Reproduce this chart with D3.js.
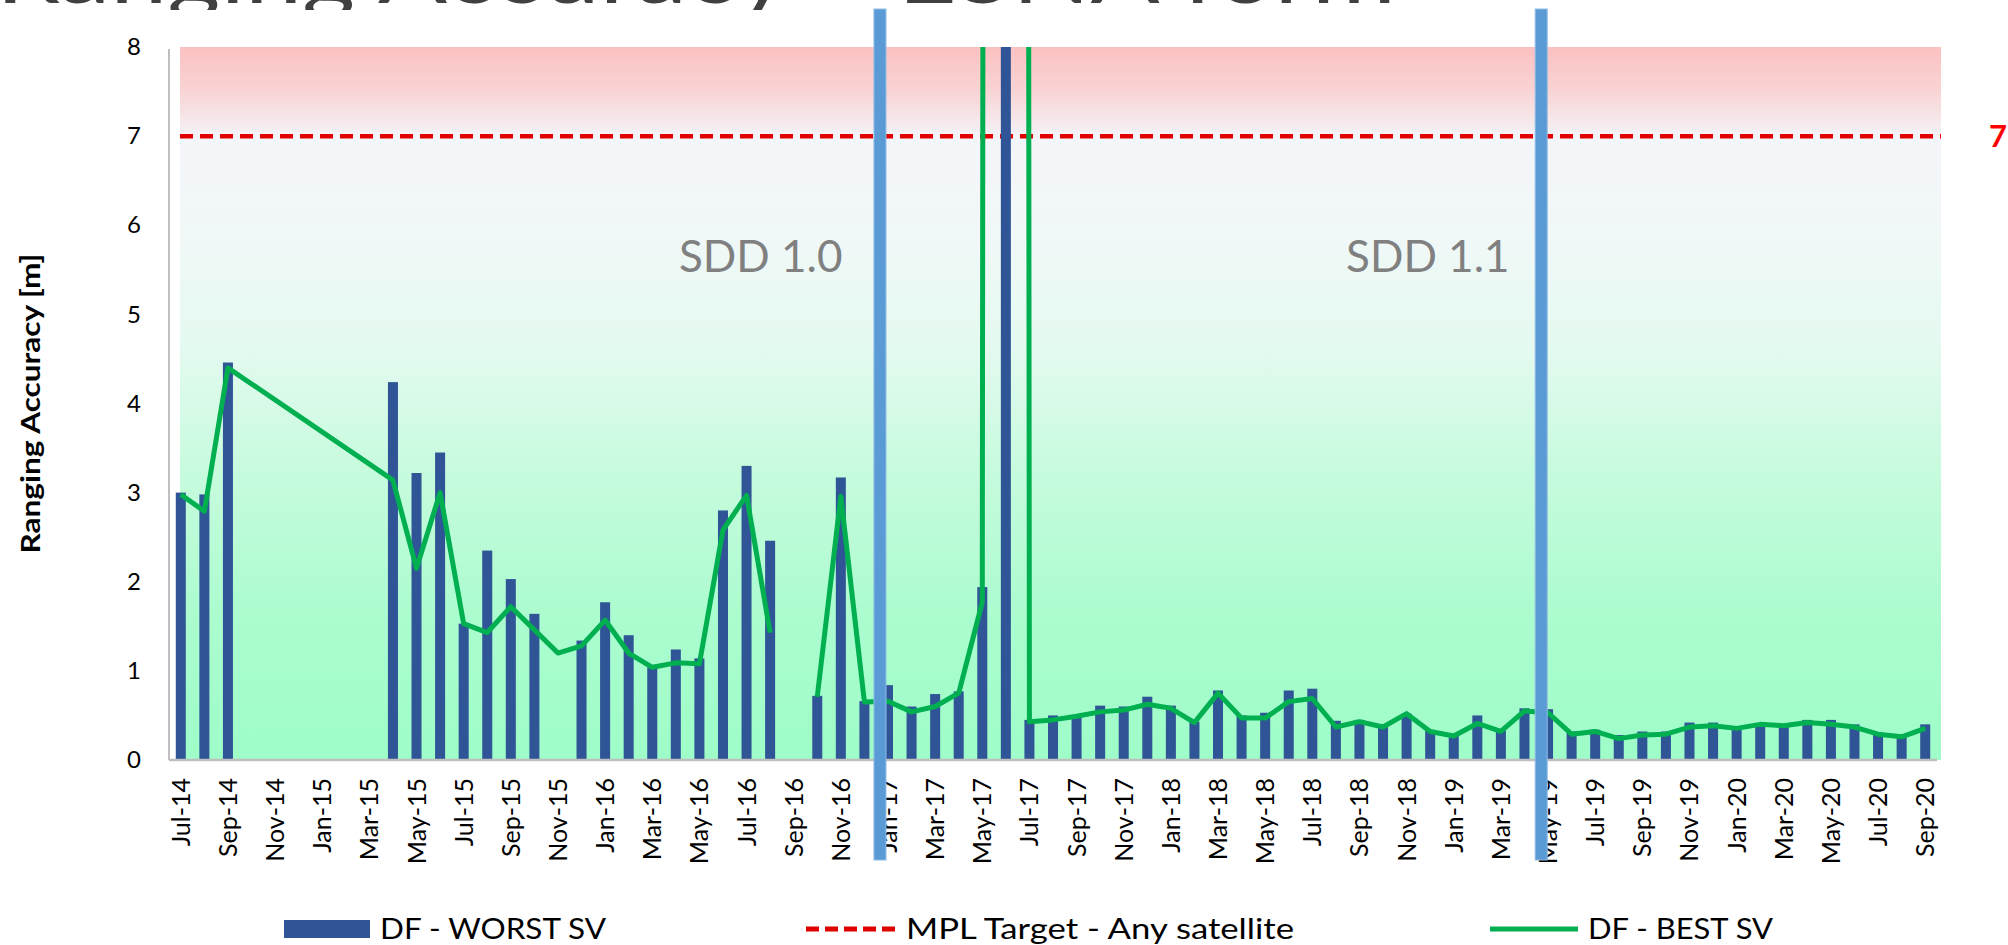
<!DOCTYPE html>
<html>
<head>
<meta charset="utf-8">
<script src="https://cdn.jsdelivr.net/npm/d3@7"></script>
<style>
  html, body { margin: 0; padding: 0; background: #ffffff; }
  svg { display: block; }
  text { font-family: Lato, "Open Sans", "DejaVu Sans", sans-serif; }
</style>
</head>
<body>
<div id="chart"></div>
<script>
// ---------------- DATA ----------------
const months = [
  "Jul-14","Aug-14","Sep-14","Oct-14","Nov-14","Dec-14",
  "Jan-15","Feb-15","Mar-15","Apr-15","May-15","Jun-15","Jul-15","Aug-15","Sep-15","Oct-15","Nov-15","Dec-15",
  "Jan-16","Feb-16","Mar-16","Apr-16","May-16","Jun-16","Jul-16","Aug-16","Sep-16","Oct-16","Nov-16","Dec-16",
  "Jan-17","Feb-17","Mar-17","Apr-17","May-17","Jun-17","Jul-17","Aug-17","Sep-17","Oct-17","Nov-17","Dec-17",
  "Jan-18","Feb-18","Mar-18","Apr-18","May-18","Jun-18","Jul-18","Aug-18","Sep-18","Oct-18","Nov-18","Dec-18",
  "Jan-19","Feb-19","Mar-19","Apr-19","May-19","Jun-19","Jul-19","Aug-19","Sep-19","Oct-19","Nov-19","Dec-19",
  "Jan-20","Feb-20","Mar-20","Apr-20","May-20","Jun-20","Jul-20","Aug-20","Sep-20"
];
const tickLabels = [
  "Jul-14","Sep-14","Nov-14","Jan-15","Mar-15","May-15","Jul-15","Sep-15","Nov-15",
  "Jan-16","Mar-16","May-16","Jul-16","Sep-16","Nov-16","Jan-17","Mar-17","May-17","Jul-17","Sep-17","Nov-17",
  "Jan-18","Mar-18","May-18","Jul-18","Sep-18","Nov-18","Jan-19","Mar-19","May-19","Jul-19","Sep-19","Nov-19",
  "Jan-20","Mar-20","May-20","Jul-20","Sep-20"
];
// DF - WORST SV (bars); null = no value; Jun-17 is far off scale
const worstSV = [
  3.00, 2.98, 4.46, null, null, null,
  null, null, null, 4.24, 3.22, 3.45, 1.53, 2.35, 2.03, 1.64, null, 1.34,
  1.77, 1.40, 1.04, 1.24, 1.14, 2.80, 3.30, 2.46, null, 0.72, 3.17, 0.66,
  0.84, 0.60, 0.74, 0.77, 1.94, 250, 0.45, 0.50, 0.48, 0.61, 0.60, 0.71,
  0.61, 0.43, 0.78, 0.50, 0.53, 0.78, 0.80, 0.44, 0.45, 0.40, 0.52, 0.33,
  0.28, 0.50, 0.33, 0.58, 0.57, 0.32, 0.34, 0.28, 0.32, 0.32, 0.42, 0.42,
  0.35, 0.40, 0.39, 0.45, 0.45, 0.40, 0.30, 0.29, 0.40
];
// DF - BEST SV (line); null = no value (line bridges it unless listed in lineBreaks)
const bestSV = [
  2.98, 2.79, 4.40, null, null, null,
  null, null, null, 3.14, 2.15, 3.00, 1.53, 1.43, 1.72, 1.46, 1.20, 1.28,
  1.57, 1.20, 1.04, 1.09, 1.08, 2.58, 2.97, 1.43, null, 0.71, 2.96, 0.65,
  0.66, 0.54, 0.60, 0.75, 1.77, 250, 0.43, 0.45, 0.49, 0.54, 0.56, 0.625,
  0.58, 0.42, 0.75, 0.47, 0.47, 0.655, 0.69, 0.37, 0.43, 0.37, 0.52, 0.32,
  0.27, 0.41, 0.32, 0.55, 0.53, 0.29, 0.32, 0.24, 0.28, 0.29, 0.37, 0.385,
  0.355, 0.40, 0.385, 0.42, 0.40, 0.37, 0.29, 0.26, 0.355
];
const lineBreaks = ["Sep-16"];
const mplTarget = 7;
const yTicks = [0, 1, 2, 3, 4, 5, 6, 7, 8];
// SDD version boundaries and labels, in (fractional) month-index units
const sddBoundaries = [29.66, 57.71];
const sddLabels = ["SDD 1.0", "SDD 1.1"];
const sddLabelPos = [24.6, 52.9];
const sddLabelValue = 5.48;
const legendLabels = ["DF - WORST SV", "MPL Target - Any satellite", "DF - BEST SV"];
const titleText = "Ranging Accuracy \u2013 ESNA form";
const yTitle = "Ranging Accuracy [m]";

// ---------------- LAYOUT ----------------
const W = 2008, H = 945;
const plot = { left: 169, right: 1937, top: 47, bottom: 760 };
const bg = { left: 180, right: 1941 };
const colors = {
  bar: "#2f5597", best: "#00b050", target: "#e00000",
  sdd: "#5b9bd5", sddText: "#808080", axis: "#bfbfbf", text: "#000000", title: "#404040"
};

const svg = d3.select("#chart").append("svg")
  .attr("width", W).attr("height", H);
const defs = svg.append("defs");

// background gradient
const grad = defs.append("linearGradient").attr("id", "bgGrad")
  .attr("x1", 0).attr("y1", 0).attr("x2", 0).attr("y2", 1);
[[0, "#fbc1c1"], [0.06, "#f9d3d3"], [0.13, "#f4f5f9"], [0.26, "#f1f8f8"],
 [0.42, "#e4faf0"], [0.60, "#c6fbdd"], [0.80, "#abfccf"], [1, "#9efdc8"]]
  .forEach(([o, c]) => grad.append("stop").attr("offset", o).attr("stop-color", c));

defs.append("clipPath").attr("id", "plotClip").append("rect")
  .attr("x", plot.left - 10).attr("y", plot.top)
  .attr("width", bg.right - plot.left + 10).attr("height", plot.bottom - plot.top);
defs.append("clipPath").attr("id", "titleClip").append("rect")
  .attr("x", 0).attr("y", -200).attr("width", W).attr("height", 210);

// scales
const x = d3.scaleBand().domain(months)
  .range([plot.left, plot.right]).paddingInner(0.575).paddingOuter(0.2875);
const xc = m => x(m) + x.bandwidth() / 2;
const xIdx = d3.scaleLinear().domain([0, months.length - 1])
  .range([xc(months[0]), xc(months[months.length - 1])]);
const y = d3.scaleLinear().domain([0, 8]).range([plot.bottom, plot.top]);

// title (mostly cropped off at top)
svg.append("text")
  .attr("clip-path", "url(#titleClip)")
  .attr("x", -4).attr("y", 3)
  .attr("font-size", 84).attr("fill", colors.title)
  .attr("textLength", 1400).attr("lengthAdjust", "spacingAndGlyphs")
  .text(titleText);

// background
svg.append("rect")
  .attr("x", bg.left).attr("y", plot.top)
  .attr("width", bg.right - bg.left).attr("height", plot.bottom - plot.top)
  .attr("fill", "url(#bgGrad)");

// SDD labels
svg.append("g").selectAll("text").data(sddLabels).join("text")
  .attr("x", (d, i) => xIdx(sddLabelPos[i]))
  .attr("y", y(sddLabelValue))
  .attr("text-anchor", "middle")
  .attr("font-size", 44).attr("fill", colors.sddText)
  .text(d => d);

// MPL target line
svg.append("line")
  .attr("x1", bg.left).attr("x2", bg.right)
  .attr("y1", y(mplTarget)).attr("y2", y(mplTarget))
  .attr("stroke", colors.target).attr("stroke-width", 4.5)
  .attr("stroke-dasharray", "13,7");
svg.append("text")
  .attr("x", 1989).attr("y", y(mplTarget) + 11)
  .attr("font-size", 31).attr("font-weight", "bold").attr("fill", "#ff0000")
  .text(mplTarget);

// bars
const plotG = svg.append("g").attr("clip-path", "url(#plotClip)");
const barData = months.map((m, i) => ({ m, v: worstSV[i] })).filter(d => d.v !== null);
plotG.append("g").selectAll("rect").data(barData).join("rect")
  .attr("x", d => x(d.m)).attr("width", x.bandwidth())
  .attr("y", d => y(d.v)).attr("height", d => y(0) - y(d.v))
  .attr("fill", colors.bar);

// best SV line
const linePts = months.map((m, i) => ({ m, v: bestSV[i] }))
  .filter(d => d.v !== null || lineBreaks.includes(d.m));
const line = d3.line().defined(d => d.v !== null)
  .x(d => xc(d.m)).y(d => y(d.v));
plotG.append("path").datum(linePts)
  .attr("d", line).attr("fill", "none")
  .attr("stroke", colors.best).attr("stroke-width", 5)
  .attr("stroke-linejoin", "round");

// axes
const yAxis = d3.axisLeft(y).tickValues(yTicks).tickSize(0).tickPadding(28);
const yG = svg.append("g").attr("transform", `translate(${plot.left},0)`).call(yAxis);
yG.select(".domain").remove();
yG.selectAll("text").attr("font-size", 24).attr("fill", colors.text)
  .attr("font-family", "Lato, sans-serif");

const xAxis = d3.axisBottom(x).tickValues(tickLabels).tickSize(0);
const xG = svg.append("g").attr("transform", `translate(0,${plot.bottom})`).call(xAxis);
xG.select(".domain").remove();
xG.selectAll("text")
  .attr("font-size", 25).attr("fill", colors.text)
  .attr("font-family", "Lato, sans-serif")
  .attr("transform", "rotate(-90)")
  .attr("text-anchor", "end")
  .attr("x", -18).attr("y", 0).attr("dy", "0.36em");

svg.append("line")
  .attr("x1", plot.left).attr("x2", plot.left)
  .attr("y1", plot.top + 2).attr("y2", plot.bottom)
  .attr("stroke", colors.axis).attr("stroke-width", 2);
svg.append("line")
  .attr("x1", plot.left).attr("x2", plot.right)
  .attr("y1", plot.bottom).attr("y2", plot.bottom)
  .attr("stroke", colors.axis).attr("stroke-width", 2.5);

// y axis title
svg.append("text")
  .attr("transform", `translate(40,${(plot.top + plot.bottom) / 2}) rotate(-90)`)
  .attr("text-anchor", "middle")
  .attr("font-size", 27).attr("font-weight", "bold").attr("fill", colors.text)
  .attr("textLength", 300).attr("lengthAdjust", "spacingAndGlyphs")
  .text(yTitle);

// SDD boundary lines
svg.append("g").selectAll("rect").data(sddBoundaries).join("rect")
  .attr("x", d => xIdx(d) - 6).attr("width", 12)
  .attr("y", 9).attr("height", 851)
  .attr("fill", colors.sdd)
  .attr("stroke", "#8fbbe6").attr("stroke-width", 1);

// legend
const legendY = 929;
const legendSym = [284, 806, 1490];
const symW = [86, 90, 88];
const txtW = [226, 388, 185];
const lg = svg.append("g");
lg.append("rect").attr("x", legendSym[0]).attr("y", legendY - 9)
  .attr("width", symW[0]).attr("height", 18).attr("fill", colors.bar);
lg.append("line").attr("x1", legendSym[1]).attr("x2", legendSym[1] + symW[1])
  .attr("y1", legendY).attr("y2", legendY)
  .attr("stroke", colors.target).attr("stroke-width", 5).attr("stroke-dasharray", "13,6");
lg.append("line").attr("x1", legendSym[2]).attr("x2", legendSym[2] + symW[2])
  .attr("y1", legendY).attr("y2", legendY)
  .attr("stroke", colors.best).attr("stroke-width", 5);
lg.selectAll("text").data(legendLabels).join("text")
  .attr("x", (d, i) => legendSym[i] + symW[i] + 10)
  .attr("y", legendY + 10)
  .attr("font-size", 29).attr("fill", colors.text)
  .attr("textLength", (d, i) => txtW[i]).attr("lengthAdjust", "spacingAndGlyphs")
  .text(d => d);
</script>
</body>
</html>
